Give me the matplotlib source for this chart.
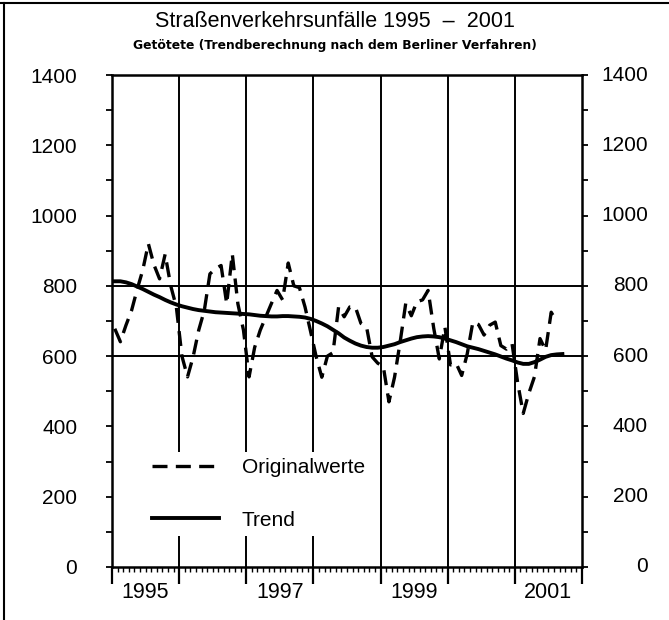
import numpy as np
import matplotlib
matplotlib.use("Agg")
import matplotlib.pyplot as plt
from matplotlib.lines import Line2D

plt.rcParams['font.family'] = ['Liberation Sans', 'DejaVu Sans']

# Monatswerte Getötete, Jan 1995 - Aug 2001
orig_1995 = [678, 641, 688, 730, 790, 845, 920, 860, 820, 890, 800, 740]
orig_1996 = [600, 541, 598, 674, 730, 834, 849, 858, 749, 891, 749, 674]
orig_1997 = [541, 625, 674, 712, 750, 787, 760, 865, 800, 795, 740, 670]
orig_1998 = [598, 540, 600, 610, 740, 712, 740, 740, 693, 683, 598, 580]
orig_1999 = [570, 470, 540, 640, 750, 715, 755, 760, 787, 680, 592, 683]
orig_2000 = [575, 580, 545, 607, 697, 690, 660, 688, 697, 630, 620, 636]
orig_2001 = [525, 437, 494, 541, 650, 617, 725, 697]
originalwerte = orig_1995 + orig_1996 + orig_1997 + orig_1998 + orig_1999 + orig_2000 + orig_2001

# Trend (Berliner Verfahren), Jan 1995 - Sep 2001
trend = [813, 813, 810, 805, 798, 791, 783, 775, 768, 760, 753, 747,
         742, 738, 734, 731, 729, 727, 725, 724, 723, 722, 721, 720,
         719, 717, 715, 714, 713, 713, 714, 714, 713, 712, 710, 706,
         700, 693, 685, 675, 665, 653, 644, 636, 630, 626, 624, 624,
         626, 630, 634, 640, 645, 650, 654, 656, 657, 656, 654, 650,
         645, 640, 634, 628, 624, 620, 615, 610, 605, 599, 593, 588,
         582, 578, 578, 583, 590, 598, 603, 605, 606]

jahre = [1995, 1996, 1997, 1998, 1999, 2000, 2001]
jahr_labels = ['1995', '1997', '1999', '2001']
y_ticks = [0, 200, 400, 600, 800, 1000, 1200, 1400]

x_orig = np.arange(len(originalwerte)) + 0.5
x_trend = np.arange(len(trend)) + 0.5

fig = plt.figure(figsize=(6.69, 6.2), dpi=100)
ax = fig.add_axes([0.1674, 0.0855, 0.7025, 0.7935])

# Gitter: Jahresgrenzen und 600/800
for i in range(1, len(jahre)):
    ax.axvline(i * 12, color='black', lw=1.4, zorder=1)
for yv in [600, 800]:
    ax.axhline(yv, color='black', lw=1.4, zorder=1)

ax.plot(x_orig, originalwerte, color='black', lw=2.4, ls=(0, (4.5, 2.5)),
        label='Originalwerte', zorder=3)
ax.plot(x_trend, trend, color='black', lw=2.8, label='Trend', zorder=4)

ax.set_xlim(0, 12 * len(jahre))
ax.set_ylim(0, 1400)

for s in ax.spines.values():
    s.set_linewidth(1.8)

ax.set_xticks(np.arange(0, 12 * len(jahre) + 1, 12))
ax.set_xticks(np.arange(0, 12 * len(jahre) + 1), minor=True)
ax.tick_params(axis='x', which='major', direction='out', length=12, width=1.6, labelbottom=False)
ax.tick_params(axis='x', which='minor', direction='out', length=3.5, width=1.0)

for lbl in jahr_labels:
    pos = (int(lbl) - jahre[0]) * 12 + 6
    ax.text(pos, -0.03, lbl, transform=ax.get_xaxis_transform(),
            ha='center', va='top', fontsize=15.5)

ax.set_yticks(y_ticks)
ax.set_yticks(np.arange(0, 1401, 100), minor=True)
ax.tick_params(axis='y', which='both', direction='out', length=4, width=1.3,
               left=True, right=True)
ax.tick_params(axis='y', which='major', labelsize=15, pad=21)
for yv in y_ticks:
    ax.text(1.14, yv, str(yv), transform=ax.get_yaxis_transform(),
            ha='right', va='center', fontsize=15)

leg = ax.legend(loc='upper left', bbox_to_anchor=(0.05, 0.255), fontsize=15,
                handlelength=3.2, handletextpad=1.1, labelspacing=1.6,
                frameon=True, borderpad=0.3, fancybox=False)
leg.get_frame().set_facecolor('white')
leg.get_frame().set_edgecolor('none')
leg.get_frame().set_alpha(1)

fig.text(0.5, 0.966, 'Straßenverkehrsunfälle 1995  –  2001', ha='center', va='center',
         fontsize=15.5)
fig.text(0.5, 0.927, 'Getötete (Trendberechnung nach dem Berliner Verfahren)',
         ha='center', va='center', fontsize=8.9, fontweight='bold', family='DejaVu Sans')

# Rahmen links und oben
fig.add_artist(Line2D([0.006, 0.006], [0, 0.995], transform=fig.transFigure, color='black', lw=1.5))
fig.add_artist(Line2D([0.0, 1.0], [0.995, 0.995], transform=fig.transFigure, color='black', lw=1.5))

fig.savefig('out.png', dpi=100)
